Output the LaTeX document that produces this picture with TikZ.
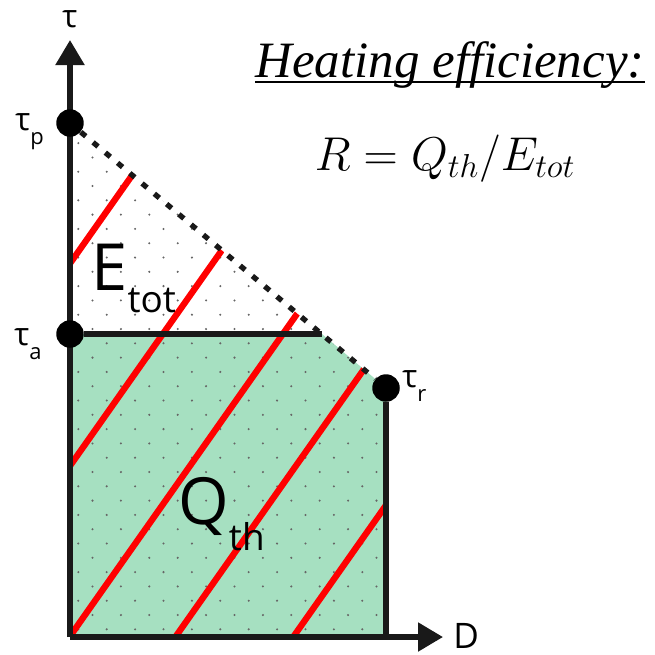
\documentclass[tikz,border=0pt]{standalone}
\usepackage{fix-cm}
\usepackage{fontspec}
\setmainfont{Open Sans}
\newfontfamily\headfont{Liberation Serif}
\usetikzlibrary{arrows.meta, backgrounds}
\definecolor{heatgreen}{HTML}{A6E0C1}
\definecolor{stripered}{HTML}{FF0000}
\newcommand{\taulab}[1]{τ\raisebox{-8pt}{\fontsize{12.5}{14}\selectfont #1}}
\tikzset{
    axis/.style={
        line width=3pt, draw=black!90, -{Triangle[length=0.5cm, width=0.56cm]}
    },
    border/.style={
        line width=3pt, draw=black!90
    },
    slope/.style={
        line width=3pt, draw=black!90, dash pattern=on 0.13cm off 0.19cm
    },
    level/.style={
        circle, fill=black, minimum size=0.55cm, inner sep=0pt
    },
    stripe/.style={
        line width=3.6pt, draw=stripered
    },
    tlabel/.style={
        anchor=base west, inner sep=0pt, font=\fontsize{18}{20}\selectfont
    },
    arealabel/.style={
        anchor=base west, inner sep=0pt, font=\fontsize{37}{40}\selectfont
    }
}

\begin{document}
\begin{tikzpicture}[x=0.02cm, y=-0.02cm]
    \useasboundingbox (0,0) rectangle (655,654);

    \coordinate (orig) at (70,637);
    \coordinate (ytop) at (70,40);
    \coordinate (xtop) at (443,637);
    \coordinate (cut)  at (322,334);
    \coordinate (rbot) at (386,637);

    \node[level] (tp) at (70,123) {};
    \node[level] (ta) at (70,334) {};
    \node[level] (tr) at (386,388) {};

    \begin{scope}[on background layer]
        \fill[heatgreen] (ta.center) -- (cut) -- (tr.center) -- (rbot) -- (orig) -- cycle;
        \begin{scope}
            \clip (tp.center) -- (tr.center) -- (rbot) -- (orig) -- cycle;
            % dotted texture
            \foreach \i in {0,...,22} {
                \foreach \j in {0,...,36} {
                    \pgfmathtruncatemacro\k{mod(\i+\j,2)}
                    \ifnum\k=0
                        \fill[black!60] (78.3+14.2*\i, 629.3-14.3*\j) circle[radius=0.65pt];
                    \fi
                }
            }
            % red stripes
            \foreach \px/\py in {133/174, 222/250, 73/632, 300/460, 296/633}
                \draw[stripe] (\px-250, \py+355) -- (\px+250, \py-355);
        \end{scope}
        \draw[axis] (orig) -- (ytop);
        \draw[axis] (orig) -- (xtop);
    \end{scope}

    \draw[slope]  (tp) -- (tr);
    \draw[border] (ta) -- (cut);
    \draw[border] (tr) -- (rbot);

    \node[tlabel] (tau)  at (62,27)   {τ};
    \node[tlabel] (dlab) at (453,648) {\fontsize{20}{22}\selectfont D};
    \node[tlabel] (plab) at (15,130)  {\taulab{p}};
    \node[tlabel] (alab) at (14,345)  {\taulab{a}};
    \node[tlabel] (rlab) at (402,387) {\taulab{r}};

    \node[arealabel] (etot) at (91,290)  {E\raisebox{-13pt}{\fontsize{21}{24}\selectfont tot}};
    \node[arealabel] (qth)  at (178,524) {Q\raisebox{-15pt}{\fontsize{21}{24}\selectfont th}};

    \node[anchor=base, inner sep=0pt, font=\headfont\itshape\fontsize{29}{34}\selectfont]
        (head) at (450,77) {Heating efficiency:};
    \draw[line width=1.3pt] ([yshift=-3pt]head.base west) -- ([yshift=-3pt]head.base east);
    \node[anchor=base, inner sep=0pt, font=\fontsize{27}{32}\selectfont]
        (ratio) at (445,170) {$R = Q_{th}/E_{tot}$};
\end{tikzpicture}
\end{document}
